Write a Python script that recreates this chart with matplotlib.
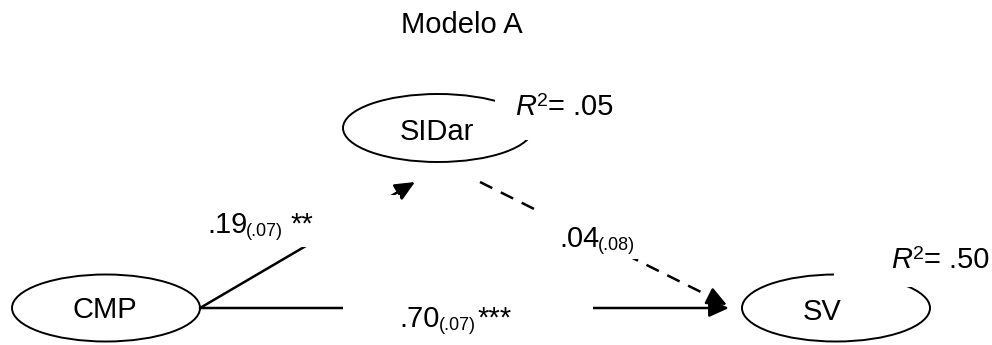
import matplotlib
matplotlib.use("Agg")
import matplotlib.pyplot as plt
from matplotlib.patches import Ellipse, Rectangle, FancyArrowPatch

plt.rcParams['font.family'] = ['Liberation Sans', 'DejaVu Sans']

# data
title = "Modelo A"
nodes = ["CMP", "SIDar", "SV"]
r_squared = [None, 0.05, 0.50]
path_from = ["CMP", "SIDar", "CMP"]
path_to = ["SIDar", "SV", "SV"]
coefs = [0.19, 0.04, 0.70]
std_errs = [0.07, 0.08, 0.07]
stars = ["**", "", "***"]

# layout, in pixels (y grows downward)
node_xy = {"CMP": (106, 308), "SIDar": (438, 128), "SV": (836, 308)}
node_wh = {"CMP": (188, 67), "SIDar": (190, 68), "SV": (188, 67)}
name_xy = {"CMP": (105, 318), "SIDar": (437, 140), "SV": (822, 320)}
r2_xy = {"SIDar": (515, 115), "SV": (891, 268)}
r2_box = {"SIDar": (495, 88, 130, 52), "SV": (834, 238, 158, 49)}
path_start = [(200, 308), (480, 182), (200, 308)]
path_end = [(415, 182), (727, 305), (729, 308)]
label_xy = [(207, 233), (559, 247), (399, 327)]
label_box = [(205, 195, 195, 52), (536, 209, 124, 50), (343, 290, 250, 40)]
star_gap = [7, 0, 2]

BIG = 21
SMALL = 13

fig = plt.figure(figsize=(9.92, 3.45), dpi=100)
ax = fig.add_axes([0, 0, 1, 1])
ax.set_xlim(0, 992)
ax.set_ylim(345, 0)
ax.axis("off")
renderer = fig.canvas.get_renderer()


def width_of(t):
    bb = t.get_window_extent(renderer).transformed(ax.transData.inverted())
    return bb.x1 - bb.x0


def fmt(v):
    return f"{v:.2f}".lstrip("0")


ax.text(462, 33, title, fontsize=BIG, ha="center", va="baseline")

# nodes
for i, n in enumerate(nodes):
    w, h = node_wh[n]
    ax.add_patch(Ellipse(node_xy[n], w, h, fill=False, lw=1.4, zorder=1))
    ax.text(*name_xy[n], n, fontsize=BIG, ha="center", va="baseline", zorder=4)
    if r_squared[i] is not None:
        bx, by, bw, bh = r2_box[n]
        ax.add_patch(Rectangle((bx, by), bw, bh, fc="white", ec="none", zorder=2))
        x, y = r2_xy[n]
        t = ax.text(x, y, "R", fontsize=BIG, style="italic", va="baseline", zorder=4)
        x += width_of(t) + 1
        t = ax.text(x, y - 9, "2", fontsize=14, va="baseline", zorder=4)
        x += width_of(t) + 0.5
        ax.text(x, y, "= " + fmt(r_squared[i]), fontsize=BIG, va="baseline", zorder=4)

# paths
for i in range(len(coefs)):
    dashed = stars[i] == ""
    p0, p1 = path_start[i], path_end[i]
    if dashed:
        # dashed shaft, solid head
        ax.plot([p0[0], p1[0]], [p0[1], p1[1]], color="black", lw=1.8,
                dashes=(5.5, 3.8), zorder=1)
        ux, uy = p1[0] - p0[0], p1[1] - p0[1]
        L = (ux ** 2 + uy ** 2) ** 0.5
        p0 = (p1[0] - ux / L * 18, p1[1] - uy / L * 18)
    ax.add_patch(FancyArrowPatch(p0, p1, arrowstyle="-|>,head_length=0.6,head_width=0.27",
                                 mutation_scale=20, lw=1.8, color="black",
                                 shrinkA=0, shrinkB=0, zorder=1))
    bx, by, bw, bh = label_box[i]
    ax.add_patch(Rectangle((bx, by), bw, bh, fc="white", ec="none", zorder=2))

    x, y = label_xy[i]
    t = ax.text(x, y, fmt(coefs[i]), fontsize=BIG, va="baseline", zorder=4)
    x += width_of(t) - 1
    t = ax.text(x, y + 3, "(" + fmt(std_errs[i]) + ")", fontsize=SMALL, va="baseline", zorder=4)
    x += width_of(t) + star_gap[i]
    if stars[i]:
        ax.text(x, y, stars[i], fontsize=BIG, va="baseline", zorder=4)

fig.savefig("out.png", dpi=100)
